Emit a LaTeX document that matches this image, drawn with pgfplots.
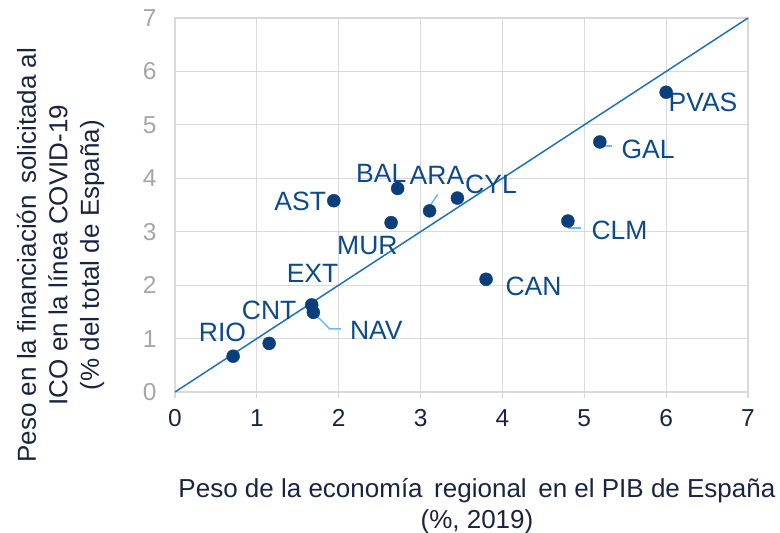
\documentclass[border=0pt]{standalone}
\usepackage{fontspec}
\setmainfont{Liberation Sans}
\usepackage{pgfplots}
\pgfplotsset{compat=1.18}
\definecolor{gridc}{HTML}{D9D9D9}
\definecolor{navy}{HTML}{0A3F7C}
\definecolor{labc}{HTML}{0C4A8A}
\definecolor{linec}{HTML}{1F72BA}
\definecolor{leader}{HTML}{74B8F0}
\definecolor{ytickc}{HTML}{A6A6A6}
\definecolor{txt}{HTML}{1A2440}
\newcommand{\fs}{\fontsize{24.5bp}{30bp}\selectfont}
\newcommand{\fl}{\fontsize{26bp}{31.5bp}\selectfont}
\newcommand{\fd}{\fontsize{26.5bp}{30bp}\selectfont}
\begin{document}
\begin{tikzpicture}
\begin{axis}[
  scale only axis, width=573bp, height=374bp,
  xmin=0, xmax=7, ymin=0, ymax=7,
  xtick={0,...,7}, ytick={0,...,7},
  grid=major, grid style={gridc, line width=1.2bp},
  axis line style={gridc, line width=1.2bp},
  xtick pos=bottom, ytick pos=left,
  xtick align=outside,
  xtick style={gridc, line width=1.2bp},
  ytick style={draw=none},
  major tick length=6bp,
  /pgf/number format/assume math mode=true,
  xticklabel style={font=\fs, text=txt, yshift=-8bp},
  yticklabel style={font=\fs, text=ytickc, xshift=-15bp},
  xlabel={Peso de la economía\, regional\, en el PIB de España\\(\%, 2019)},
  xlabel style={font=\fl, text=txt, align=center, at={(axis description cs:0.527,-0.305)}, anchor=center},
  ylabel={Peso en la financiación\, solicitada al\\ICO en la línea COVID-19\\(\% del total de España)},
  ylabel style={font=\fl, text=txt, align=center, at={(axis description cs:-0.200,0.366)}, anchor=center},
  clip=false,
]
\addplot[linec, line width=1.5bp] coordinates {(0,0) (7,7)};
\addplot[leader, line width=1.5bp] coordinates {(1.69,1.49) (1.89,1.18) (2.03,1.18)};
\addplot[leader, line width=1.5bp] coordinates {(3.11,3.47) (3.21,3.70)};
\addplot[leader, line width=1.5bp] coordinates {(5.20,4.68) (5.20,4.60) (5.34,4.60)};
\addplot[leader, line width=1.5bp] coordinates {(4.81,3.20) (4.81,3.07) (4.96,3.07)};
\addplot[only marks, mark=*, mark size=6.5bp, navy, mark options={draw=navy, fill=navy}] coordinates {
 (0.71,0.67) (1.15,0.91) (1.67,1.63) (1.69,1.49) (1.94,3.58) (2.72,3.81)
 (2.64,3.17) (3.11,3.39) (3.45,3.63) (3.80,2.11) (4.80,3.20) (5.19,4.68) (6.00,5.61)
};
\node[font=\fd, text=labc] at (axis cs:0.58,1.11) {RIO};
\node[font=\fd, text=labc] at (axis cs:1.15,1.53) {CNT};
\node[font=\fd, text=labc] at (axis cs:1.68,2.22) {EXT};
\node[font=\fd, text=labc] at (axis cs:2.46,1.15) {NAV};
\node[font=\fd, text=labc] at (axis cs:1.53,3.56) {AST};
\node[font=\fd, text=labc] at (axis cs:2.35,2.75) {MUR};
\node[font=\fd, text=labc] at (axis cs:2.52,4.09) {BAL};
\node[font=\fd, text=labc] at (axis cs:3.20,4.05) {ARA};
\node[font=\fd, text=labc] at (axis cs:3.86,3.88) {CYL};
\node[font=\fd, text=labc] at (axis cs:4.38,1.98) {CAN};
\node[font=\fd, text=labc] at (axis cs:5.43,3.02) {CLM};
\node[font=\fd, text=labc] at (axis cs:5.78,4.55) {GAL};
\node[font=\fd, text=labc] at (axis cs:6.45,5.43) {PVAS};
\coordinate (sw) at (rel axis cs:0,0);
\end{axis}
\pgfresetboundingbox
\path (sw) ++(-175bp,-141bp) rectangle ++(780bp,533bp);
\end{tikzpicture}
\end{document}
